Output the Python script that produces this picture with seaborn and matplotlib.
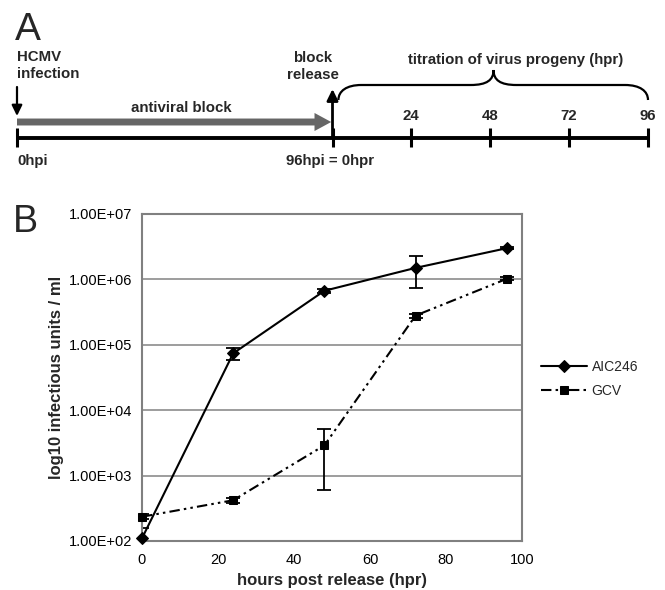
import numpy as np
import pandas as pd
import matplotlib
matplotlib.use("Agg")
import matplotlib.pyplot as plt
import seaborn as sns
from matplotlib.path import Path
from matplotlib.patches import PathPatch
from matplotlib.ticker import FixedLocator, FuncFormatter, NullLocator

# ---------------- data ----------------
hpr = [0, 24, 48, 72, 96]
aic246 = [110, 74000, 670000, 1.5e6, 3.0e6]
aic246_lo = [75, 58000, 620000, 7.4e5, 2.9e6]
aic246_hi = [160, 88000, 720000, 2.3e6, 3.1e6]
gcv = [235, 420, 2900, 2.8e5, 1.02e6]
gcv_lo = [215, 380, 600, 2.6e5, 0.97e6]
gcv_hi = [255, 460, 5100, 3.0e5, 1.07e6]
series_names = ["AIC246", "GCV"]
ytick_values = [1e2, 1e3, 1e4, 1e5, 1e6, 1e7]
xtick_values = [0, 20, 40, 60, 80, 100]

# timeline (panel A), hours post infection
release_hpi = 96
titration_hpr = [24, 48, 72, 96]
timeline_end_hpi = 192

# ---------------- style ----------------
sns.set_style("white")
plt.rcParams["font.family"] = ["Liberation Sans", "DejaVu Sans"]

W, H = 665, 590
fig = plt.figure(figsize=(W / 100, H / 100), dpi=100)

# ---------------- panel A ----------------
axA = fig.add_axes([17 / W, (H - 180) / H, 631 / W, 180 / H])
axA.set_xlim(0, timeline_end_hpi)
axA.set_ylim(180, 0)
axA.axis("off")
axA.patch.set_visible(False)

tfs = 10.8
# main timeline
axA.plot([0, timeline_end_hpi], [138, 138], color="black", lw=2.8,
         solid_capstyle="butt", clip_on=False)
tick_pos = [0, release_hpi] + [release_hpi + h for h in titration_hpr]
axA.vlines(tick_pos, 128, 147, color="black", lw=2.2, clip_on=False)

# grey antiviral block arrow
axA.annotate("", xy=(release_hpi - 0.4, 122), xytext=(0, 122),
             arrowprops=dict(arrowstyle="simple,tail_width=0.5,head_width=1.3,head_length=1.2",
                             mutation_scale=10, color="#666666", shrinkA=0, shrinkB=0,
                             lw=0), annotation_clip=False)
# block release up arrow
axA.annotate("", xy=(release_hpi, 89), xytext=(release_hpi, 138),
             arrowprops=dict(arrowstyle="-|>,head_length=0.45,head_width=0.22",
                             mutation_scale=15, color="black", lw=2.0,
                             shrinkA=0, shrinkB=0), annotation_clip=False)
# infection down arrow
axA.annotate("", xy=(0, 116), xytext=(0, 87),
             arrowprops=dict(arrowstyle="-|>,head_length=0.45,head_width=0.22",
                             mutation_scale=14, color="black", lw=1.6,
                             shrinkA=0, shrinkB=0), annotation_clip=False)

# brace
L, R = release_hpi + 1.8, timeline_end_hpi
M = 145.0
verts = [(L, 100),
         (L, 91), (L + 2.5, 85), (L + 7, 85),
         (M - 7, 85),
         (M - 2, 85), (M, 80), (M, 70),
         (M, 80), (M + 2, 85), (M + 7, 85),
         (R - 7, 85),
         (R - 2.5, 85), (R, 91), (R, 100)]
codes = [Path.MOVETO,
         Path.CURVE4, Path.CURVE4, Path.CURVE4,
         Path.LINETO,
         Path.CURVE4, Path.CURVE4, Path.CURVE4,
         Path.CURVE4, Path.CURVE4, Path.CURVE4,
         Path.LINETO,
         Path.CURVE4, Path.CURVE4, Path.CURVE4]
axA.add_patch(PathPatch(Path(verts, codes), fill=False, lw=1.6, color="black",
                        clip_on=False))

# texts
axA.text(0, 50, "HCMV\ninfection", ha="left", va="top", fontsize=tfs,
         fontweight="bold", linespacing=1.3)
axA.text(89.9, 51, "block\nrelease", ha="center", va="top", fontsize=tfs,
         fontweight="bold", linespacing=1.3, multialignment="center")
axA.text(151.8, 64, "titration of virus progeny (hpr)", ha="center", va="baseline",
         fontsize=tfs, fontweight="bold")
axA.text(50, 112, "antiviral block", ha="center", va="baseline", fontsize=tfs,
         fontweight="bold")
for h in titration_hpr:
    axA.text(release_hpi + h, 120, str(h), ha="center", va="baseline",
             fontsize=tfs, fontweight="bold", clip_on=False)
axA.text(0, 165, "0hpi", ha="left", va="baseline", fontsize=tfs, fontweight="bold")
axA.text(95.4, 165, f"{release_hpi}hpi = 0hpr", ha="center", va="baseline",
         fontsize=tfs, fontweight="bold")

fig.text(15 / W, (H - 40) / H, "A", fontsize=28, ha="left", va="baseline")
fig.text(13 / W, (H - 232) / H, "B", fontsize=27, ha="left", va="baseline")

# ---------------- panel B ----------------
axB = fig.add_axes([142 / W, 49 / H, 380 / W, 327 / H])
df = pd.DataFrame({
    "hpr": hpr + hpr,
    "titer": aic246 + gcv,
    "treatment": [series_names[0]] * len(hpr) + [series_names[1]] * len(hpr),
})

axB.yaxis.grid(True, color="#8c8c8c", lw=1.2, zorder=0)
axB.xaxis.grid(False)
axB.set_axisbelow(True)

sns.lineplot(data=df, x="hpr", y="titer", hue="treatment", style="treatment",
             palette={"AIC246": "black", "GCV": "black"},
             markers={"AIC246": "D", "GCV": "s"},
             dashes={"AIC246": "", "GCV": (5, 2, 1.2, 2, 1.2, 2)},
             markersize=6, markeredgecolor="black", lw=1.5, ax=axB,
             clip_on=False, zorder=3)

for vals, lo, hi in [(aic246, aic246_lo, aic246_hi), (gcv, gcv_lo, gcv_hi)]:
    v = np.array(vals)
    yerr = [v - np.array(lo), np.array(hi) - v]
    axB.errorbar(hpr, v, yerr=yerr, fmt="none", ecolor="black", elinewidth=1.3,
                 capsize=5, capthick=1.3, zorder=2)

axB.set_yscale("log")
axB.set_ylim(1e2, 1e7)
axB.set_xlim(0, 100)
axB.yaxis.set_major_locator(FixedLocator(ytick_values))
axB.yaxis.set_minor_locator(NullLocator())
axB.yaxis.set_major_formatter(FuncFormatter(lambda v, p: f"{v:.2E}"))
axB.xaxis.set_major_locator(FixedLocator(xtick_values))

for s in axB.spines.values():
    s.set_color("#808080")
    s.set_linewidth(1.5)
axB.tick_params(axis="both", direction="out", length=4, width=1.2, color="#808080",
                labelsize=10.5, labelcolor="black", pad=3)
axB.tick_params(axis="x", pad=5)

axB.set_xlabel("hours post release (hpr)", fontsize=12, fontweight="bold")
axB.set_ylabel("log10 infectious units / ml", fontsize=12, fontweight="bold")
axB.xaxis.set_label_coords(0.5, -0.098)
axB.yaxis.set_label_coords(-0.205, 0.5)

handles, labels = axB.get_legend_handles_labels()
axB.legend(handles, labels, loc="center left",
           bbox_to_anchor=(541 / W, (H - 379) / H), bbox_transform=fig.transFigure,
           frameon=False, fontsize=10, handlelength=3.3, handletextpad=0.35,
           labelspacing=0.75, borderpad=0, borderaxespad=0)

fig.savefig("out.png", dpi=100)
